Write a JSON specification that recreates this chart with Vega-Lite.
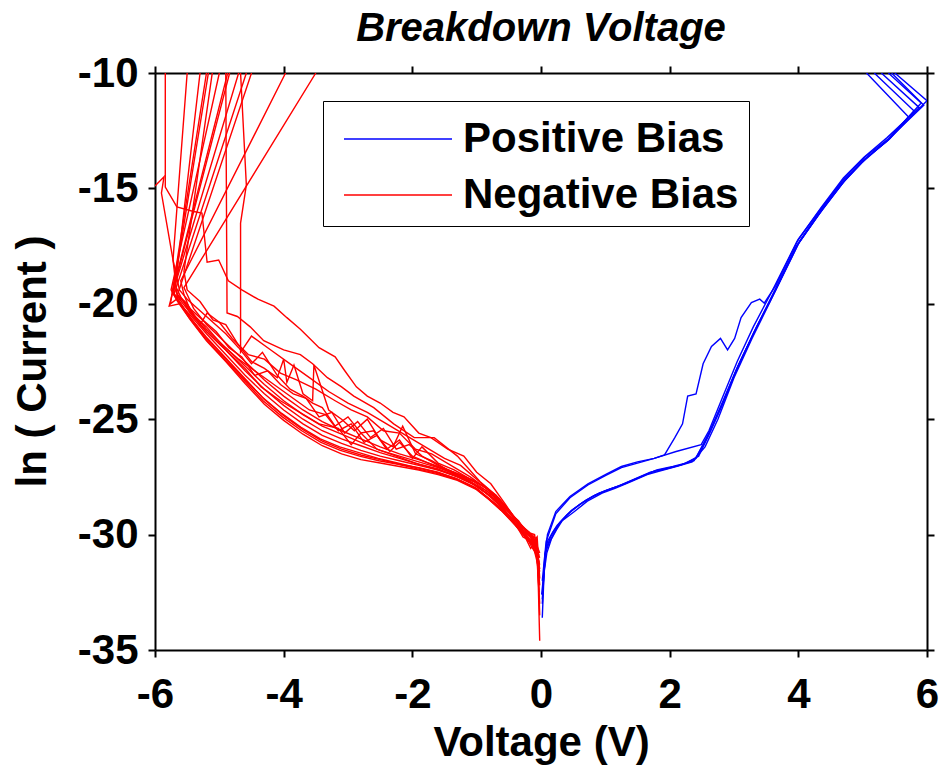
{
"$schema": "https://vega.github.io/schema/vega-lite/v6.json",
"width": 772, "height": 577,
"autosize": {"type": "none"},
"padding": {"left": 155, "top": 73, "right": 12, "bottom": 117},
"background": "white",
"config": {
  "font": "Liberation Sans",
  "view": {"stroke": null},
  "axis": {"domainColor": "black", "domainWidth": 2, "tickColor": "black", "tickWidth": 2, "tickSize": 7, "grid": false,
    "labelFont": "Liberation Sans", "labelFontSize": 42, "labelFontWeight": "bold", "labelColor": "black",
    "titleFont": "Liberation Sans", "titleFontSize": 42, "titleFontWeight": "bold", "titleColor": "black"}
},
"title": {"text": "Breakdown Voltage", "font": "Liberation Sans", "fontSize": 40, "fontWeight": "bold", "fontStyle": "italic", "color": "black", "anchor": "middle", "frame": "group", "baseline": "alphabetic", "offset": -29},
"datasets": {
"pos": [
{"c":21,"g":"P","v":0.02,"y":-33.6},{"c":21,"g":"P","v":0.05,"y":-31.5},{"c":21,"g":"P","v":0.08,"y":-30.6},{"c":21,"g":"P","v":0.15,"y":-30.1},{"c":21,"g":"P","v":0.21,"y":-29.8},{"c":21,"g":"P","v":0.3,"y":-29.45},{"c":21,"g":"P","v":0.47,"y":-28.96},{"c":21,"g":"P","v":0.65,"y":-28.6},{"c":21,"g":"P","v":0.83,"y":-28.3},{"c":21,"g":"P","v":1.05,"y":-28.05},{"c":21,"g":"P","v":1.25,"y":-27.85},{"c":21,"g":"P","v":1.5,"y":-27.55},{"c":21,"g":"P","v":1.76,"y":-27.25},{"c":21,"g":"P","v":2.0,"y":-27.1},{"c":21,"g":"P","v":2.18,"y":-26.98},{"c":21,"g":"P","v":2.41,"y":-26.7},{"c":21,"g":"P","v":2.61,"y":-25.6},{"c":21,"g":"P","v":2.8,"y":-24.4},{"c":21,"g":"P","v":3.06,"y":-22.7},{"c":21,"g":"P","v":3.32,"y":-21.2},{"c":21,"g":"P","v":3.63,"y":-19.5},{"c":21,"g":"P","v":4.0,"y":-17.4},{"c":21,"g":"P","v":4.36,"y":-15.95},{"c":21,"g":"P","v":4.72,"y":-14.65},{"c":21,"g":"P","v":5.03,"y":-13.75},{"c":21,"g":"P","v":5.4,"y":-12.9},{"c":21,"g":"P","v":5.8,"y":-11.75},{"c":21,"g":"P","v":6.0,"y":-11.2},{"c":21,"g":"P","v":5.5,"y":-10},
{"c":22,"g":"P","v":0.02,"y":-32.8},{"c":22,"g":"P","v":0.06,"y":-30.9},{"c":22,"g":"P","v":0.1,"y":-30.3},{"c":22,"g":"P","v":0.18,"y":-29.9},{"c":22,"g":"P","v":0.25,"y":-29.6},{"c":22,"g":"P","v":0.35,"y":-29.3},{"c":22,"g":"P","v":0.5,"y":-28.9},{"c":22,"g":"P","v":0.7,"y":-28.5},{"c":22,"g":"P","v":0.9,"y":-28.2},{"c":22,"g":"P","v":1.1,"y":-28.0},{"c":22,"g":"P","v":1.3,"y":-27.8},{"c":22,"g":"P","v":1.55,"y":-27.5},{"c":22,"g":"P","v":1.8,"y":-27.2},{"c":22,"g":"P","v":2.05,"y":-27.05},{"c":22,"g":"P","v":2.25,"y":-26.9},{"c":22,"g":"P","v":2.45,"y":-26.6},{"c":22,"g":"P","v":2.64,"y":-25.5},{"c":22,"g":"P","v":2.83,"y":-24.3},{"c":22,"g":"P","v":3.08,"y":-22.6},{"c":22,"g":"P","v":3.35,"y":-21.0},{"c":22,"g":"P","v":3.65,"y":-19.4},{"c":22,"g":"P","v":4.02,"y":-17.3},{"c":22,"g":"P","v":4.38,"y":-15.9},{"c":22,"g":"P","v":4.74,"y":-14.6},{"c":22,"g":"P","v":5.05,"y":-13.7},{"c":22,"g":"P","v":5.42,"y":-12.85},{"c":22,"g":"P","v":5.8,"y":-11.65},{"c":22,"g":"P","v":5.18,"y":-10},
{"c":23,"g":"P","v":0.02,"y":-32.0},{"c":23,"g":"P","v":0.08,"y":-30.3},{"c":23,"g":"P","v":0.23,"y":-29.1},{"c":23,"g":"P","v":0.45,"y":-28.4},{"c":23,"g":"P","v":0.73,"y":-27.85},{"c":23,"g":"P","v":1.0,"y":-27.45},{"c":23,"g":"P","v":1.25,"y":-27.1},{"c":23,"g":"P","v":1.5,"y":-26.9},{"c":23,"g":"P","v":1.76,"y":-26.7},{"c":23,"g":"P","v":2.1,"y":-26.4},{"c":23,"g":"P","v":2.49,"y":-26.1},{"c":23,"g":"P","v":2.61,"y":-25.5},{"c":23,"g":"P","v":2.8,"y":-24.2},{"c":23,"g":"P","v":3.05,"y":-22.5},{"c":23,"g":"P","v":3.3,"y":-21.0},{"c":23,"g":"P","v":3.6,"y":-19.4},{"c":23,"g":"P","v":3.98,"y":-17.3},{"c":23,"g":"P","v":4.35,"y":-15.85},{"c":23,"g":"P","v":4.7,"y":-14.55},{"c":23,"g":"P","v":5.02,"y":-13.65},{"c":23,"g":"P","v":5.38,"y":-12.8},{"c":23,"g":"P","v":5.88,"y":-11.5},{"c":23,"g":"P","v":5.29,"y":-10},
{"c":24,"g":"P","v":0.02,"y":-33.0},{"c":24,"g":"P","v":0.06,"y":-31.0},{"c":24,"g":"P","v":0.1,"y":-30.0},{"c":24,"g":"P","v":0.23,"y":-29.0},{"c":24,"g":"P","v":0.45,"y":-28.35},{"c":24,"g":"P","v":0.73,"y":-27.8},{"c":24,"g":"P","v":1.0,"y":-27.4},{"c":24,"g":"P","v":1.25,"y":-27.05},{"c":24,"g":"P","v":1.5,"y":-26.85},{"c":24,"g":"P","v":1.76,"y":-26.7},{"c":24,"g":"P","v":1.92,"y":-26.55},{"c":24,"g":"P","v":2.08,"y":-25.8},{"c":24,"g":"P","v":2.2,"y":-25.2},{"c":24,"g":"P","v":2.28,"y":-24.0},{"c":24,"g":"P","v":2.41,"y":-23.9},{"c":24,"g":"P","v":2.52,"y":-22.6},{"c":24,"g":"P","v":2.65,"y":-21.85},{"c":24,"g":"P","v":2.79,"y":-21.5},{"c":24,"g":"P","v":2.9,"y":-22.0},{"c":24,"g":"P","v":3.01,"y":-21.5},{"c":24,"g":"P","v":3.11,"y":-20.6},{"c":24,"g":"P","v":3.27,"y":-19.95},{"c":24,"g":"P","v":3.4,"y":-19.8},{"c":24,"g":"P","v":3.47,"y":-19.97},{"c":24,"g":"P","v":3.65,"y":-19.2},{"c":24,"g":"P","v":4.0,"y":-17.2},{"c":24,"g":"P","v":4.36,"y":-15.85},{"c":24,"g":"P","v":4.72,"y":-14.55},{"c":24,"g":"P","v":5.03,"y":-13.65},{"c":24,"g":"P","v":5.4,"y":-12.85},{"c":24,"g":"P","v":5.91,"y":-11.3},{"c":24,"g":"P","v":5.4,"y":-10},
{"c":25,"g":"P","v":0.03,"y":-32.3},{"c":25,"g":"P","v":0.07,"y":-30.8},{"c":25,"g":"P","v":0.12,"y":-30.4},{"c":25,"g":"P","v":0.2,"y":-29.95},{"c":25,"g":"P","v":0.28,"y":-29.55},{"c":25,"g":"P","v":0.4,"y":-29.15},{"c":25,"g":"P","v":0.6,"y":-28.7},{"c":25,"g":"P","v":0.8,"y":-28.35},{"c":25,"g":"P","v":1.0,"y":-28.1},{"c":25,"g":"P","v":1.2,"y":-27.9},{"c":25,"g":"P","v":1.45,"y":-27.6},{"c":25,"g":"P","v":1.7,"y":-27.3},{"c":25,"g":"P","v":1.95,"y":-27.15},{"c":25,"g":"P","v":2.15,"y":-27.0},{"c":25,"g":"P","v":2.38,"y":-26.8},{"c":25,"g":"P","v":2.58,"y":-25.8},{"c":25,"g":"P","v":2.78,"y":-24.6},{"c":25,"g":"P","v":3.03,"y":-22.9},{"c":25,"g":"P","v":3.3,"y":-21.3},{"c":25,"g":"P","v":3.6,"y":-19.6},{"c":25,"g":"P","v":3.97,"y":-17.5},{"c":25,"g":"P","v":4.33,"y":-16.0},{"c":25,"g":"P","v":4.7,"y":-14.7},{"c":25,"g":"P","v":5.0,"y":-13.8},{"c":25,"g":"P","v":5.38,"y":-12.95},{"c":25,"g":"P","v":5.71,"y":-11.9},{"c":25,"g":"P","v":5.06,"y":-10},
{"c":26,"g":"P","v":0.01,"y":-32.6},{"c":26,"g":"P","v":0.04,"y":-31.8},{"c":26,"g":"P","v":0.09,"y":-30.8},{"c":26,"g":"P","v":0.16,"y":-30.2},{"c":26,"g":"P","v":0.24,"y":-29.8},{"c":26,"g":"P","v":0.33,"y":-29.4},{"c":26,"g":"P","v":0.52,"y":-29.0},{"c":26,"g":"P","v":0.72,"y":-28.55},{"c":26,"g":"P","v":0.95,"y":-28.2},{"c":26,"g":"P","v":1.15,"y":-28.0},{"c":26,"g":"P","v":1.4,"y":-27.7},{"c":26,"g":"P","v":1.65,"y":-27.4},{"c":26,"g":"P","v":1.9,"y":-27.2},{"c":26,"g":"P","v":2.1,"y":-27.05},{"c":26,"g":"P","v":2.35,"y":-26.85},{"c":26,"g":"P","v":2.55,"y":-26.2},{"c":26,"g":"P","v":2.75,"y":-25.0},{"c":26,"g":"P","v":3.0,"y":-23.2},{"c":26,"g":"P","v":3.28,"y":-21.5},{"c":26,"g":"P","v":3.58,"y":-19.8},{"c":26,"g":"P","v":3.95,"y":-17.6},{"c":26,"g":"P","v":4.3,"y":-16.2},{"c":26,"g":"P","v":4.68,"y":-14.8},{"c":26,"g":"P","v":5.0,"y":-13.85},{"c":26,"g":"P","v":5.35,"y":-13.0},{"c":26,"g":"P","v":5.95,"y":-11.4},{"c":26,"g":"P","v":5.45,"y":-10}
],
"neg": [
{"c":1,"g":"N","v":-0.02,"y":-34.6},{"c":1,"g":"N","v":-0.05,"y":-31.3},{"c":1,"g":"N","v":-0.12,"y":-30.5},{"c":1,"g":"N","v":-0.25,"y":-30.1},{"c":1,"g":"N","v":-0.4,"y":-29.6},{"c":1,"g":"N","v":-0.6,"y":-29.0},{"c":1,"g":"N","v":-0.8,"y":-28.5},{"c":1,"g":"N","v":-1.0,"y":-28.05},{"c":1,"g":"N","v":-1.3,"y":-27.65},{"c":1,"g":"N","v":-1.6,"y":-27.4},{"c":1,"g":"N","v":-1.9,"y":-27.2},{"c":1,"g":"N","v":-2.2,"y":-27.05},{"c":1,"g":"N","v":-2.5,"y":-26.9},{"c":1,"g":"N","v":-2.8,"y":-26.75},{"c":1,"g":"N","v":-3.1,"y":-26.5},{"c":1,"g":"N","v":-3.4,"y":-26.15},{"c":1,"g":"N","v":-3.7,"y":-25.65},{"c":1,"g":"N","v":-4.0,"y":-25.05},{"c":1,"g":"N","v":-4.3,"y":-24.35},{"c":1,"g":"N","v":-4.6,"y":-23.45},{"c":1,"g":"N","v":-4.9,"y":-22.5},{"c":1,"g":"N","v":-5.2,"y":-21.6},{"c":1,"g":"N","v":-5.45,"y":-20.7},{"c":1,"g":"N","v":-5.65,"y":-19.9},{"c":1,"g":"N","v":-5.75,"y":-19.4},{"c":1,"g":"N","v":-5.0,"y":-10},
{"c":2,"g":"N","v":-0.03,"y":-32.5},{"c":2,"g":"N","v":-0.06,"y":-30.9},{"c":2,"g":"N","v":-0.13,"y":-30.6},{"c":2,"g":"N","v":-0.25,"y":-30.0},{"c":2,"g":"N","v":-0.42,"y":-29.5},{"c":2,"g":"N","v":-0.6,"y":-28.9},{"c":2,"g":"N","v":-0.82,"y":-28.4},{"c":2,"g":"N","v":-1.0,"y":-28.0},{"c":2,"g":"N","v":-1.3,"y":-27.6},{"c":2,"g":"N","v":-1.6,"y":-27.3},{"c":2,"g":"N","v":-1.9,"y":-27.1},{"c":2,"g":"N","v":-2.2,"y":-26.95},{"c":2,"g":"N","v":-2.5,"y":-26.75},{"c":2,"g":"N","v":-2.8,"y":-26.55},{"c":2,"g":"N","v":-3.1,"y":-26.3},{"c":2,"g":"N","v":-3.4,"y":-25.95},{"c":2,"g":"N","v":-3.7,"y":-25.45},{"c":2,"g":"N","v":-4.0,"y":-24.85},{"c":2,"g":"N","v":-4.3,"y":-24.15},{"c":2,"g":"N","v":-4.6,"y":-23.25},{"c":2,"g":"N","v":-4.9,"y":-22.35},{"c":2,"g":"N","v":-5.2,"y":-21.45},{"c":2,"g":"N","v":-5.45,"y":-20.6},{"c":2,"g":"N","v":-5.62,"y":-19.9},{"c":2,"g":"N","v":-5.72,"y":-19.5},{"c":2,"g":"N","v":-5.17,"y":-10},
{"c":3,"g":"N","v":-0.02,"y":-33.0},{"c":3,"g":"N","v":-0.07,"y":-30.7},{"c":3,"g":"N","v":-0.15,"y":-30.3},{"c":3,"g":"N","v":-0.28,"y":-30.1},{"c":3,"g":"N","v":-0.45,"y":-29.3},{"c":3,"g":"N","v":-0.62,"y":-28.8},{"c":3,"g":"N","v":-0.8,"y":-28.3},{"c":3,"g":"N","v":-1.0,"y":-27.9},{"c":3,"g":"N","v":-1.3,"y":-27.5},{"c":3,"g":"N","v":-1.6,"y":-27.2},{"c":3,"g":"N","v":-1.9,"y":-27.0},{"c":3,"g":"N","v":-2.2,"y":-26.8},{"c":3,"g":"N","v":-2.5,"y":-26.6},{"c":3,"g":"N","v":-2.8,"y":-26.35},{"c":3,"g":"N","v":-3.1,"y":-26.05},{"c":3,"g":"N","v":-3.4,"y":-25.7},{"c":3,"g":"N","v":-3.7,"y":-25.2},{"c":3,"g":"N","v":-4.0,"y":-24.6},{"c":3,"g":"N","v":-4.3,"y":-23.9},{"c":3,"g":"N","v":-4.6,"y":-23.1},{"c":3,"g":"N","v":-4.9,"y":-22.2},{"c":3,"g":"N","v":-5.2,"y":-21.3},{"c":3,"g":"N","v":-5.45,"y":-20.5},{"c":3,"g":"N","v":-5.62,"y":-20.0},{"c":3,"g":"N","v":-5.78,"y":-20.1},{"c":3,"g":"N","v":-4.84,"y":-10},
{"c":4,"g":"N","v":-0.04,"y":-31.8},{"c":4,"g":"N","v":-0.08,"y":-30.3},{"c":4,"g":"N","v":-0.16,"y":-30.6},{"c":4,"g":"N","v":-0.3,"y":-29.8},{"c":4,"g":"N","v":-0.45,"y":-29.4},{"c":4,"g":"N","v":-0.65,"y":-28.6},{"c":4,"g":"N","v":-0.85,"y":-28.2},{"c":4,"g":"N","v":-1.05,"y":-27.8},{"c":4,"g":"N","v":-1.3,"y":-27.5},{"c":4,"g":"N","v":-1.6,"y":-27.15},{"c":4,"g":"N","v":-1.9,"y":-26.95},{"c":4,"g":"N","v":-2.2,"y":-26.7},{"c":4,"g":"N","v":-2.5,"y":-26.45},{"c":4,"g":"N","v":-2.8,"y":-26.15},{"c":4,"g":"N","v":-3.1,"y":-25.85},{"c":4,"g":"N","v":-3.4,"y":-25.5},{"c":4,"g":"N","v":-3.7,"y":-25.0},{"c":4,"g":"N","v":-4.0,"y":-24.4},{"c":4,"g":"N","v":-4.3,"y":-23.7},{"c":4,"g":"N","v":-4.6,"y":-22.9},{"c":4,"g":"N","v":-4.9,"y":-22.0},{"c":4,"g":"N","v":-5.2,"y":-21.2},{"c":4,"g":"N","v":-5.45,"y":-20.4},{"c":4,"g":"N","v":-5.62,"y":-19.8},{"c":4,"g":"N","v":-5.7,"y":-19.3},{"c":4,"g":"N","v":-4.7,"y":-10},
{"c":5,"g":"N","v":-0.03,"y":-31.5},{"c":5,"g":"N","v":-0.07,"y":-30.2},{"c":5,"g":"N","v":-0.14,"y":-30.0},{"c":5,"g":"N","v":-0.27,"y":-29.9},{"c":5,"g":"N","v":-0.45,"y":-29.2},{"c":5,"g":"N","v":-0.63,"y":-28.6},{"c":5,"g":"N","v":-0.85,"y":-28.1},{"c":5,"g":"N","v":-1.05,"y":-27.7},{"c":5,"g":"N","v":-1.3,"y":-27.4},{"c":5,"g":"N","v":-1.6,"y":-27.1},{"c":5,"g":"N","v":-1.9,"y":-26.85},{"c":5,"g":"N","v":-2.2,"y":-26.6},{"c":5,"g":"N","v":-2.5,"y":-26.35},{"c":5,"g":"N","v":-2.8,"y":-26.0},{"c":5,"g":"N","v":-3.1,"y":-25.65},{"c":5,"g":"N","v":-3.4,"y":-25.3},{"c":5,"g":"N","v":-3.7,"y":-24.8},{"c":5,"g":"N","v":-4.0,"y":-24.2},{"c":5,"g":"N","v":-4.3,"y":-23.5},{"c":5,"g":"N","v":-4.6,"y":-22.7},{"c":5,"g":"N","v":-4.9,"y":-21.9},{"c":5,"g":"N","v":-5.2,"y":-21.1},{"c":5,"g":"N","v":-5.45,"y":-20.3},{"c":5,"g":"N","v":-5.55,"y":-19.6},{"c":5,"g":"N","v":-5.6,"y":-19.0},{"c":5,"g":"N","v":-3.97,"y":-10},
{"c":6,"g":"N","v":-0.02,"y":-31.9},{"c":6,"g":"N","v":-0.06,"y":-30.1},{"c":6,"g":"N","v":-0.15,"y":-30.4},{"c":6,"g":"N","v":-0.3,"y":-29.7},{"c":6,"g":"N","v":-0.48,"y":-29.0},{"c":6,"g":"N","v":-0.66,"y":-28.4},{"c":6,"g":"N","v":-0.85,"y":-28.0},{"c":6,"g":"N","v":-1.05,"y":-27.65},{"c":6,"g":"N","v":-1.3,"y":-27.35},{"c":6,"g":"N","v":-1.6,"y":-27.05},{"c":6,"g":"N","v":-1.9,"y":-26.75},{"c":6,"g":"N","v":-2.2,"y":-26.5},{"c":6,"g":"N","v":-2.5,"y":-26.2},{"c":6,"g":"N","v":-2.8,"y":-25.85},{"c":6,"g":"N","v":-3.1,"y":-25.5},{"c":6,"g":"N","v":-3.4,"y":-25.1},{"c":6,"g":"N","v":-3.7,"y":-24.6},{"c":6,"g":"N","v":-4.0,"y":-24.0},{"c":6,"g":"N","v":-4.3,"y":-23.3},{"c":6,"g":"N","v":-4.6,"y":-22.5},{"c":6,"g":"N","v":-4.9,"y":-21.7},{"c":6,"g":"N","v":-5.2,"y":-20.9},{"c":6,"g":"N","v":-5.4,"y":-20.2},{"c":6,"g":"N","v":-5.5,"y":-19.6},{"c":6,"g":"N","v":-5.55,"y":-19.3},{"c":6,"g":"N","v":-3.5,"y":-10},
{"c":7,"g":"N","v":-0.03,"y":-31.0},{"c":7,"g":"N","v":-0.08,"y":-30.5},{"c":7,"g":"N","v":-0.18,"y":-29.9},{"c":7,"g":"N","v":-0.32,"y":-29.6},{"c":7,"g":"N","v":-0.5,"y":-29.0},{"c":7,"g":"N","v":-0.7,"y":-28.3},{"c":7,"g":"N","v":-0.9,"y":-27.9},{"c":7,"g":"N","v":-1.1,"y":-27.6},{"c":7,"g":"N","v":-1.35,"y":-27.2},{"c":7,"g":"N","v":-1.6,"y":-26.9},{"c":7,"g":"N","v":-1.85,"y":-26.2},{"c":7,"g":"N","v":-2.0,"y":-26.7},{"c":7,"g":"N","v":-2.2,"y":-25.9},{"c":7,"g":"N","v":-2.4,"y":-26.3},{"c":7,"g":"N","v":-2.6,"y":-25.5},{"c":7,"g":"N","v":-2.8,"y":-25.6},{"c":7,"g":"N","v":-3.0,"y":-24.9},{"c":7,"g":"N","v":-3.2,"y":-25.3},{"c":7,"g":"N","v":-3.4,"y":-24.5},{"c":7,"g":"N","v":-3.55,"y":-24.3},{"c":7,"g":"N","v":-3.7,"y":-24.0},{"c":7,"g":"N","v":-3.9,"y":-23.7},{"c":7,"g":"N","v":-4.1,"y":-23.1},{"c":7,"g":"N","v":-4.33,"y":-22.1},{"c":7,"g":"N","v":-4.5,"y":-22.6},{"c":7,"g":"N","v":-4.7,"y":-21.9},{"c":7,"g":"N","v":-4.9,"y":-21.3},{"c":7,"g":"N","v":-5.1,"y":-20.8},{"c":7,"g":"N","v":-5.3,"y":-20.3},{"c":7,"g":"N","v":-5.5,"y":-19.8},{"c":7,"g":"N","v":-5.62,"y":-19.4},{"c":7,"g":"N","v":-5.72,"y":-18.1},{"c":7,"g":"N","v":-5.5,"y":-10},
{"c":8,"g":"N","v":-0.02,"y":-30.8},{"c":8,"g":"N","v":-0.1,"y":-30.2},{"c":8,"g":"N","v":-0.2,"y":-30.0},{"c":8,"g":"N","v":-0.35,"y":-29.4},{"c":8,"g":"N","v":-0.55,"y":-28.9},{"c":8,"g":"N","v":-0.75,"y":-28.4},{"c":8,"g":"N","v":-0.95,"y":-28.0},{"c":8,"g":"N","v":-1.2,"y":-27.5},{"c":8,"g":"N","v":-1.45,"y":-27.2},{"c":8,"g":"N","v":-1.7,"y":-26.8},{"c":8,"g":"N","v":-1.95,"y":-26.5},{"c":8,"g":"N","v":-2.15,"y":-25.3},{"c":8,"g":"N","v":-2.3,"y":-26.2},{"c":8,"g":"N","v":-2.5,"y":-25.9},{"c":8,"g":"N","v":-2.7,"y":-25.0},{"c":8,"g":"N","v":-2.9,"y":-25.5},{"c":8,"g":"N","v":-3.1,"y":-25.0},{"c":8,"g":"N","v":-3.3,"y":-24.6},{"c":8,"g":"N","v":-3.53,"y":-22.65},{"c":8,"g":"N","v":-3.55,"y":-24.2},{"c":8,"g":"N","v":-3.7,"y":-23.9},{"c":8,"g":"N","v":-3.84,"y":-22.65},{"c":8,"g":"N","v":-3.95,"y":-23.4},{"c":8,"g":"N","v":-4.0,"y":-22.4},{"c":8,"g":"N","v":-4.1,"y":-23.2},{"c":8,"g":"N","v":-4.3,"y":-22.8},{"c":8,"g":"N","v":-4.5,"y":-22.5},{"c":8,"g":"N","v":-4.7,"y":-21.8},{"c":8,"g":"N","v":-4.9,"y":-20.9},{"c":8,"g":"N","v":-5.1,"y":-20.7},{"c":8,"g":"N","v":-5.3,"y":-19.9},{"c":8,"g":"N","v":-5.5,"y":-19.4},{"c":8,"g":"N","v":-5.55,"y":-18.6},{"c":8,"g":"N","v":-5.11,"y":-10},
{"c":9,"g":"N","v":-0.02,"y":-31.0},{"c":9,"g":"N","v":-0.1,"y":-30.4},{"c":9,"g":"N","v":-0.22,"y":-29.9},{"c":9,"g":"N","v":-0.4,"y":-29.3},{"c":9,"g":"N","v":-0.6,"y":-28.7},{"c":9,"g":"N","v":-0.85,"y":-28.0},{"c":9,"g":"N","v":-1.1,"y":-27.5},{"c":9,"g":"N","v":-1.4,"y":-27.0},{"c":9,"g":"N","v":-1.7,"y":-26.5},{"c":9,"g":"N","v":-1.95,"y":-26.3},{"c":9,"g":"N","v":-2.2,"y":-25.6},{"c":9,"g":"N","v":-2.45,"y":-25.5},{"c":9,"g":"N","v":-2.7,"y":-24.9},{"c":9,"g":"N","v":-2.95,"y":-24.6},{"c":9,"g":"N","v":-3.2,"y":-24.2},{"c":9,"g":"N","v":-3.5,"y":-23.7},{"c":9,"g":"N","v":-3.8,"y":-23.3},{"c":9,"g":"N","v":-4.05,"y":-23.0},{"c":9,"g":"N","v":-4.3,"y":-22.4},{"c":9,"g":"N","v":-4.55,"y":-22.2},{"c":9,"g":"N","v":-4.8,"y":-21.5},{"c":9,"g":"N","v":-5.0,"y":-20.8},{"c":9,"g":"N","v":-5.19,"y":-20.4},{"c":9,"g":"N","v":-5.3,"y":-20.9},{"c":9,"g":"N","v":-5.5,"y":-20.0},{"c":9,"g":"N","v":-5.65,"y":-19.6},{"c":9,"g":"N","v":-4.5,"y":-10},
{"c":10,"g":"N","v":-0.02,"y":-33.5},{"c":10,"g":"N","v":-0.05,"y":-30.9},{"c":10,"g":"N","v":-0.13,"y":-30.3},{"c":10,"g":"N","v":-0.27,"y":-30.0},{"c":10,"g":"N","v":-0.43,"y":-29.5},{"c":10,"g":"N","v":-0.62,"y":-28.9},{"c":10,"g":"N","v":-0.83,"y":-28.4},{"c":10,"g":"N","v":-1.03,"y":-27.95},{"c":10,"g":"N","v":-1.33,"y":-27.55},{"c":10,"g":"N","v":-1.63,"y":-27.3},{"c":10,"g":"N","v":-1.93,"y":-27.1},{"c":10,"g":"N","v":-2.23,"y":-26.9},{"c":10,"g":"N","v":-2.53,"y":-26.7},{"c":10,"g":"N","v":-2.83,"y":-26.45},{"c":10,"g":"N","v":-3.13,"y":-26.2},{"c":10,"g":"N","v":-3.43,"y":-25.85},{"c":10,"g":"N","v":-3.73,"y":-25.35},{"c":10,"g":"N","v":-4.03,"y":-24.75},{"c":10,"g":"N","v":-4.33,"y":-24.05},{"c":10,"g":"N","v":-4.63,"y":-23.2},{"c":10,"g":"N","v":-4.93,"y":-22.3},{"c":10,"g":"N","v":-5.23,"y":-21.4},{"c":10,"g":"N","v":-5.45,"y":-20.6},{"c":10,"g":"N","v":-5.65,"y":-19.8},{"c":10,"g":"N","v":-5.72,"y":-18.1},{"c":10,"g":"N","v":-5.9,"y":-15.2},{"c":10,"g":"N","v":-5.86,"y":-14.5},{"c":10,"g":"N","v":-6.0,"y":-14.9},
{"c":11,"g":"N","v":-0.02,"y":-32.2},{"c":11,"g":"N","v":-0.07,"y":-30.5},{"c":11,"g":"N","v":-0.16,"y":-30.1},{"c":11,"g":"N","v":-0.3,"y":-29.8},{"c":11,"g":"N","v":-0.47,"y":-29.3},{"c":11,"g":"N","v":-0.65,"y":-28.7},{"c":11,"g":"N","v":-0.86,"y":-28.2},{"c":11,"g":"N","v":-1.06,"y":-27.8},{"c":11,"g":"N","v":-1.35,"y":-27.4},{"c":11,"g":"N","v":-1.65,"y":-27.15},{"c":11,"g":"N","v":-1.95,"y":-26.9},{"c":11,"g":"N","v":-2.25,"y":-26.6},{"c":11,"g":"N","v":-2.55,"y":-26.3},{"c":11,"g":"N","v":-2.8,"y":-25.6},{"c":11,"g":"N","v":-2.95,"y":-26.1},{"c":11,"g":"N","v":-3.15,"y":-25.4},{"c":11,"g":"N","v":-3.45,"y":-25.2},{"c":11,"g":"N","v":-3.75,"y":-24.7},{"c":11,"g":"N","v":-4.05,"y":-24.2},{"c":11,"g":"N","v":-4.35,"y":-23.6},{"c":11,"g":"N","v":-4.6,"y":-22.8},{"c":11,"g":"N","v":-4.9,"y":-22.0},{"c":11,"g":"N","v":-5.2,"y":-21.2},{"c":11,"g":"N","v":-5.45,"y":-20.4},{"c":11,"g":"N","v":-5.6,"y":-19.7},{"c":11,"g":"N","v":-5.67,"y":-19.3},{"c":11,"g":"N","v":-4.58,"y":-10},
{"c":12,"g":"N","v":-0.02,"y":-31.5},{"c":12,"g":"N","v":-0.1,"y":-30.0},{"c":12,"g":"N","v":-0.2,"y":-29.9},{"c":12,"g":"N","v":-0.36,"y":-29.5},{"c":12,"g":"N","v":-0.55,"y":-28.7},{"c":12,"g":"N","v":-0.78,"y":-27.8},{"c":12,"g":"N","v":-1.0,"y":-27.3},{"c":12,"g":"N","v":-1.2,"y":-26.6},{"c":12,"g":"N","v":-1.45,"y":-26.3},{"c":12,"g":"N","v":-1.71,"y":-25.8},{"c":12,"g":"N","v":-1.9,"y":-25.6},{"c":12,"g":"N","v":-2.13,"y":-24.9},{"c":12,"g":"N","v":-2.3,"y":-24.7},{"c":12,"g":"N","v":-2.5,"y":-24.3},{"c":12,"g":"N","v":-2.7,"y":-24.0},{"c":12,"g":"N","v":-2.87,"y":-23.6},{"c":12,"g":"N","v":-3.05,"y":-22.9},{"c":12,"g":"N","v":-3.2,"y":-22.3},{"c":12,"g":"N","v":-3.45,"y":-21.9},{"c":12,"g":"N","v":-3.74,"y":-21.1},{"c":12,"g":"N","v":-3.95,"y":-20.6},{"c":12,"g":"N","v":-4.15,"y":-20.1},{"c":12,"g":"N","v":-4.4,"y":-19.8},{"c":12,"g":"N","v":-4.65,"y":-19.4},{"c":12,"g":"N","v":-4.86,"y":-19.0},{"c":12,"g":"N","v":-5.01,"y":-18.1},{"c":12,"g":"N","v":-5.19,"y":-18.2},{"c":12,"g":"N","v":-5.27,"y":-16.07},{"c":12,"g":"N","v":-5.4,"y":-16.0},{"c":12,"g":"N","v":-5.66,"y":-15.8},{"c":12,"g":"N","v":-5.84,"y":-14.94},{"c":12,"g":"N","v":-5.84,"y":-10},
{"c":13,"g":"N","v":-0.03,"y":-31.2},{"c":13,"g":"N","v":-0.1,"y":-30.3},{"c":13,"g":"N","v":-0.25,"y":-29.8},{"c":13,"g":"N","v":-0.45,"y":-29.1},{"c":13,"g":"N","v":-0.7,"y":-28.3},{"c":13,"g":"N","v":-0.95,"y":-27.7},{"c":13,"g":"N","v":-1.3,"y":-26.6},{"c":13,"g":"N","v":-1.66,"y":-25.8},{"c":13,"g":"N","v":-1.97,"y":-25.8},{"c":13,"g":"N","v":-2.29,"y":-25.2},{"c":13,"g":"N","v":-2.6,"y":-24.5},{"c":13,"g":"N","v":-2.91,"y":-24.0},{"c":13,"g":"N","v":-3.1,"y":-23.6},{"c":13,"g":"N","v":-3.32,"y":-23.2},{"c":13,"g":"N","v":-3.55,"y":-22.6},{"c":13,"g":"N","v":-3.74,"y":-22.2},{"c":13,"g":"N","v":-4.0,"y":-22.0},{"c":13,"g":"N","v":-4.31,"y":-21.6},{"c":13,"g":"N","v":-4.52,"y":-21.0},{"c":13,"g":"N","v":-4.72,"y":-20.55},{"c":13,"g":"N","v":-4.88,"y":-20.4},{"c":13,"g":"N","v":-4.9,"y":-10},
{"c":14,"g":"N","v":-0.02,"y":-31.6},{"c":14,"g":"N","v":-0.12,"y":-30.1},{"c":14,"g":"N","v":-0.3,"y":-29.6},{"c":14,"g":"N","v":-0.5,"y":-29.0},{"c":14,"g":"N","v":-0.75,"y":-28.2},{"c":14,"g":"N","v":-1.0,"y":-27.6},{"c":14,"g":"N","v":-1.25,"y":-27.0},{"c":14,"g":"N","v":-1.5,"y":-26.7},{"c":14,"g":"N","v":-1.8,"y":-26.2},{"c":14,"g":"N","v":-2.1,"y":-25.7},{"c":14,"g":"N","v":-2.4,"y":-25.2},{"c":14,"g":"N","v":-2.7,"y":-24.7},{"c":14,"g":"N","v":-3.0,"y":-24.3},{"c":14,"g":"N","v":-3.3,"y":-23.8},{"c":14,"g":"N","v":-3.6,"y":-23.2},{"c":14,"g":"N","v":-3.9,"y":-22.6},{"c":14,"g":"N","v":-4.2,"y":-22.0},{"c":14,"g":"N","v":-4.5,"y":-21.4},{"c":14,"g":"N","v":-4.67,"y":-22.1},{"c":14,"g":"N","v":-4.67,"y":-16.5},{"c":14,"g":"N","v":-4.58,"y":-14.85},{"c":14,"g":"N","v":-4.67,"y":-10},
{"c":15,"g":"N","v":-0.03,"y":-32.0},{"c":15,"g":"N","v":-0.06,"y":-31.0},{"c":15,"g":"N","v":-0.14,"y":-30.4},{"c":15,"g":"N","v":-0.26,"y":-30.0},{"c":15,"g":"N","v":-0.42,"y":-29.5},{"c":15,"g":"N","v":-0.62,"y":-28.95},{"c":15,"g":"N","v":-0.82,"y":-28.45},{"c":15,"g":"N","v":-1.02,"y":-28.0},{"c":15,"g":"N","v":-1.32,"y":-27.6},{"c":15,"g":"N","v":-1.62,"y":-27.35},{"c":15,"g":"N","v":-1.92,"y":-27.15},{"c":15,"g":"N","v":-2.22,"y":-26.95},{"c":15,"g":"N","v":-2.52,"y":-26.8},{"c":15,"g":"N","v":-2.82,"y":-26.6},{"c":15,"g":"N","v":-3.12,"y":-26.35},{"c":15,"g":"N","v":-3.42,"y":-26.0},{"c":15,"g":"N","v":-3.72,"y":-25.5},{"c":15,"g":"N","v":-4.02,"y":-24.9},{"c":15,"g":"N","v":-4.32,"y":-24.2},{"c":15,"g":"N","v":-4.62,"y":-23.3},{"c":15,"g":"N","v":-4.92,"y":-22.4},{"c":15,"g":"N","v":-5.22,"y":-21.5},{"c":15,"g":"N","v":-5.47,"y":-20.6},{"c":15,"g":"N","v":-5.64,"y":-19.9},{"c":15,"g":"N","v":-5.73,"y":-19.5},{"c":15,"g":"N","v":-4.87,"y":-10},
{"c":16,"g":"N","v":-0.02,"y":-31.3},{"c":16,"g":"N","v":-0.09,"y":-30.6},{"c":16,"g":"N","v":-0.2,"y":-30.1},{"c":16,"g":"N","v":-0.38,"y":-29.5},{"c":16,"g":"N","v":-0.58,"y":-28.9},{"c":16,"g":"N","v":-0.8,"y":-28.3},{"c":16,"g":"N","v":-1.0,"y":-27.9},{"c":16,"g":"N","v":-1.25,"y":-27.5},{"c":16,"g":"N","v":-1.5,"y":-27.2},{"c":16,"g":"N","v":-1.75,"y":-26.9},{"c":16,"g":"N","v":-2.0,"y":-26.6},{"c":16,"g":"N","v":-2.2,"y":-26.0},{"c":16,"g":"N","v":-2.35,"y":-26.4},{"c":16,"g":"N","v":-2.55,"y":-25.7},{"c":16,"g":"N","v":-2.75,"y":-26.0},{"c":16,"g":"N","v":-2.95,"y":-25.2},{"c":16,"g":"N","v":-3.15,"y":-25.5},{"c":16,"g":"N","v":-3.35,"y":-24.8},{"c":16,"g":"N","v":-3.6,"y":-24.6},{"c":16,"g":"N","v":-3.8,"y":-24.2},{"c":16,"g":"N","v":-4.0,"y":-23.8},{"c":16,"g":"N","v":-4.2,"y":-23.4},{"c":16,"g":"N","v":-4.45,"y":-22.9},{"c":16,"g":"N","v":-4.7,"y":-22.4},{"c":16,"g":"N","v":-4.95,"y":-21.8},{"c":16,"g":"N","v":-5.2,"y":-21.0},{"c":16,"g":"N","v":-5.4,"y":-20.5},{"c":16,"g":"N","v":-5.55,"y":-19.9},{"c":16,"g":"N","v":-5.7,"y":-19.6},{"c":16,"g":"N","v":-5.3,"y":-10},
{"c":17,"g":"N","v":-0.03,"y":-30.9},{"c":17,"g":"N","v":-0.1,"y":-30.3},{"c":17,"g":"N","v":-0.24,"y":-29.8},{"c":17,"g":"N","v":-0.42,"y":-29.3},{"c":17,"g":"N","v":-0.62,"y":-28.6},{"c":17,"g":"N","v":-0.85,"y":-28.1},{"c":17,"g":"N","v":-1.1,"y":-27.7},{"c":17,"g":"N","v":-1.35,"y":-27.3},{"c":17,"g":"N","v":-1.6,"y":-27.0},{"c":17,"g":"N","v":-1.85,"y":-26.6},{"c":17,"g":"N","v":-2.05,"y":-26.1},{"c":17,"g":"N","v":-2.25,"y":-26.3},{"c":17,"g":"N","v":-2.45,"y":-25.4},{"c":17,"g":"N","v":-2.65,"y":-25.8},{"c":17,"g":"N","v":-2.85,"y":-25.1},{"c":17,"g":"N","v":-3.05,"y":-25.6},{"c":17,"g":"N","v":-3.25,"y":-24.7},{"c":17,"g":"N","v":-3.45,"y":-24.9},{"c":17,"g":"N","v":-3.65,"y":-24.1},{"c":17,"g":"N","v":-3.85,"y":-23.9},{"c":17,"g":"N","v":-4.05,"y":-23.5},{"c":17,"g":"N","v":-4.25,"y":-22.9},{"c":17,"g":"N","v":-4.45,"y":-23.1},{"c":17,"g":"N","v":-4.65,"y":-22.3},{"c":17,"g":"N","v":-4.85,"y":-21.9},{"c":17,"g":"N","v":-5.05,"y":-21.2},{"c":17,"g":"N","v":-5.3,"y":-20.6},{"c":17,"g":"N","v":-5.5,"y":-20.1},{"c":17,"g":"N","v":-5.62,"y":-19.7},{"c":17,"g":"N","v":-5.76,"y":-20.0},{"c":17,"g":"N","v":-5.2,"y":-10}
]
},
"layer": [
  {
    "data": {"name": "pos"},
    "mark": {"type": "line", "strokeWidth": 1.4, "clip": true},
    "encoding": {
      "x": {"field": "v", "type": "quantitative", "scale": {"domain": [-6, 6], "nice": false, "zero": false},
        "axis": {"orient": "bottom", "values": [-6, -4, -2, 0, 2, 4, 6], "labelExpr": "'' + datum.value", "labelPadding": 17, "title": "Voltage (V)", "titleY": 105, "titleBaseline": "alphabetic", "labelFlush": false, "labelOverlap": false}},
      "y": {"field": "y", "type": "quantitative", "scale": {"domain": [-35, -10], "nice": false, "zero": false},
        "axis": {"orient": "left", "values": [-35, -30, -25, -20, -15, -10], "labelExpr": "'' + datum.value", "labelPadding": 10, "title": "ln ( Current )", "titleX": -110, "titleY": 288, "titleAngle": 270, "titleAlign": "center", "titleBaseline": "alphabetic", "labelFlush": false, "labelOverlap": false}},
      "color": {"field": "g", "type": "nominal", "scale": {"domain": ["P", "N"], "range": ["#0000ff", "#ff0000"]},
        "legend": {"orient": "none", "legendX": 168, "legendY": 28, "title": null, "strokeColor": "black", "fillColor": "white", "padding": 10,
          "symbolType": "M-2,0H2", "symbolSize": 2916, "symbolStrokeWidth": 1.5, "symbolFillColor": "transparent", "symbolOffset": 37, "labelOffset": 37,
          "labelFontSize": 42, "labelFontWeight": "bold", "labelColor": "black", "labelFont": "Liberation Sans", "rowPadding": 7, "labelLimit": 0,
          "labelExpr": "datum.label == 'P' ? 'Positive Bias' : 'Negative Bias'"}},
      "detail": {"field": "c", "type": "nominal"},
      "order": {"value": null}
    }
  },
  {
    "data": {"name": "neg"},
    "mark": {"type": "line", "strokeWidth": 1.4, "clip": true},
    "encoding": {
      "x": {"field": "v", "type": "quantitative", "scale": {"domain": [-6, 6], "nice": false, "zero": false},
        "axis": {"orient": "top", "values": [-6, -4, -2, 0, 2, 4, 6], "labels": false, "title": null}},
      "y": {"field": "y", "type": "quantitative", "scale": {"domain": [-35, -10], "nice": false, "zero": false},
        "axis": {"orient": "right", "values": [-35, -30, -25, -20, -15, -10], "labels": false, "title": null}},
      "color": {"field": "g", "type": "nominal", "scale": {"domain": ["P", "N"], "range": ["#0000ff", "#ff0000"]}},
      "detail": {"field": "c", "type": "nominal"},
      "order": {"value": null}
    }
  }
],
"resolve": {"axis": {"x": "independent", "y": "independent"}}
}
